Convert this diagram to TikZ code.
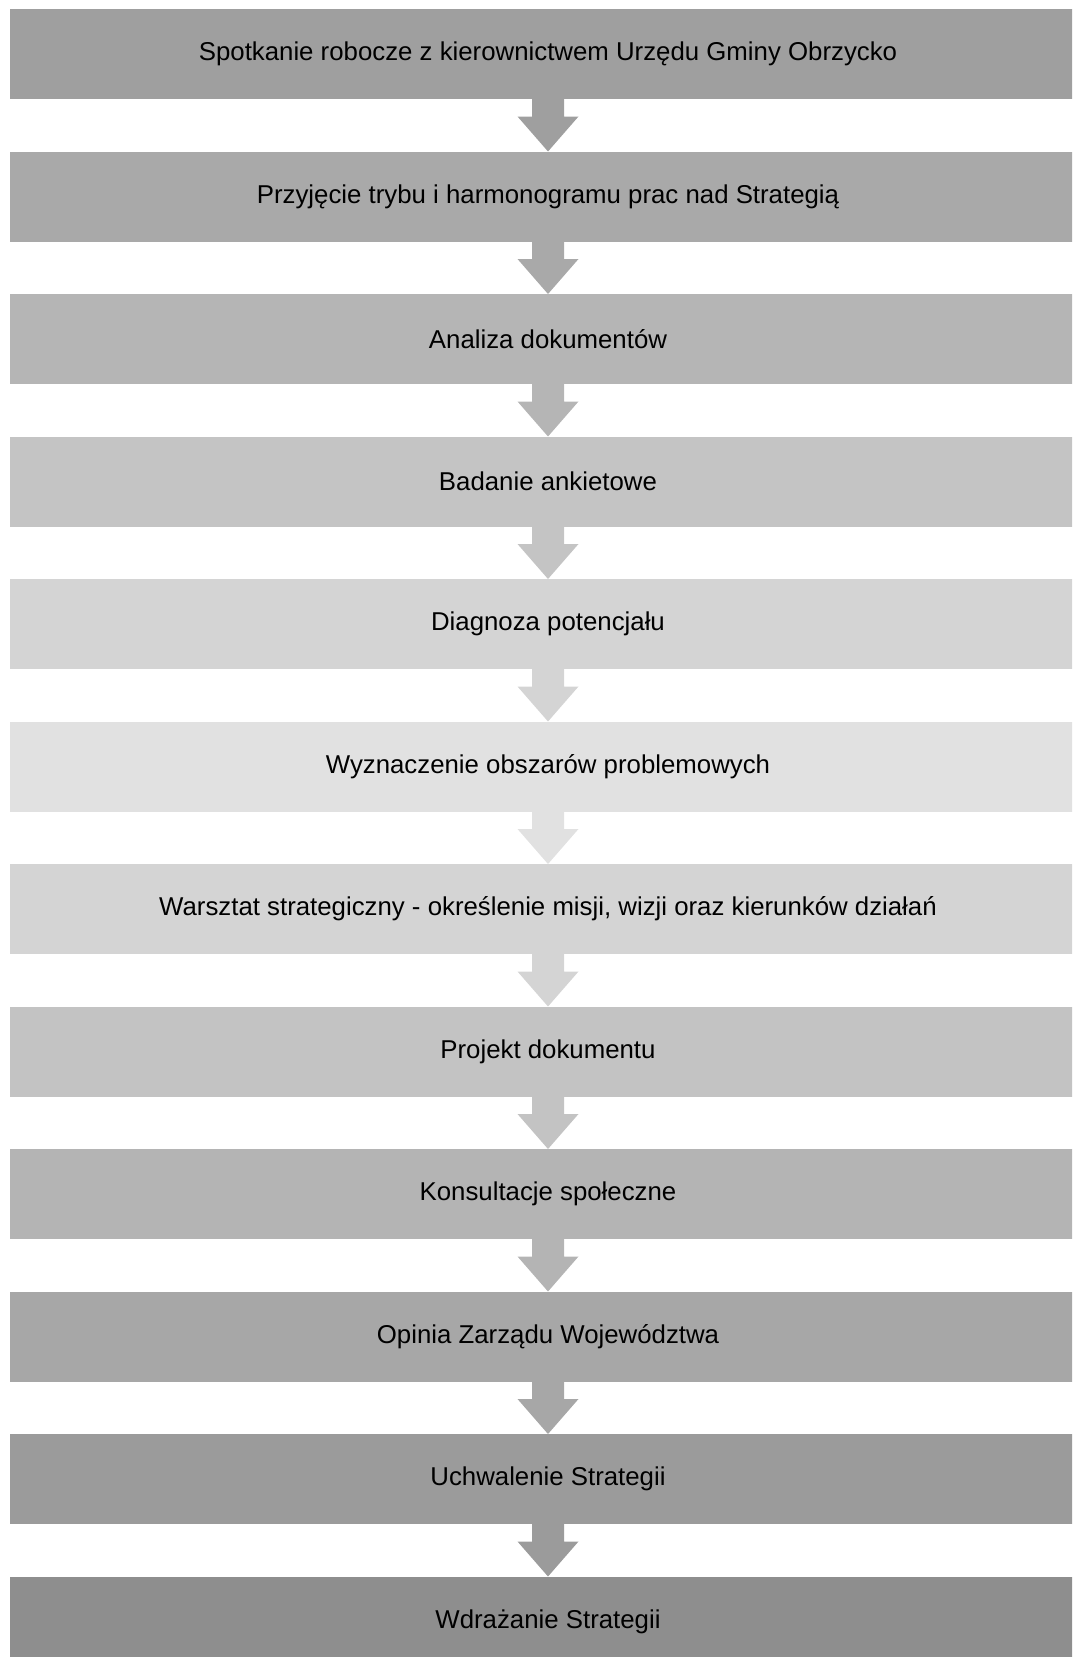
\documentclass[tikz,border=0pt]{standalone}
\usepackage{fontspec}
\setmainfont{Liberation Sans}
\definecolor{col1}{HTML}{9F9F9F}
\definecolor{col2}{HTML}{A9A9A9}
\definecolor{col3}{HTML}{B5B5B5}
\definecolor{col4}{HTML}{C4C4C4}
\definecolor{col5}{HTML}{D4D4D4}
\definecolor{col6}{HTML}{E1E1E1}
\definecolor{col7}{HTML}{D4D4D4}
\definecolor{col8}{HTML}{C3C3C3}
\definecolor{col9}{HTML}{B4B4B4}
\definecolor{col10}{HTML}{A7A7A7}
\definecolor{col11}{HTML}{9B9B9B}
\definecolor{col12}{HTML}{8E8E8E}
\begin{document}
\begin{tikzpicture}[x=1pt,y=1pt,
    stage/.style={minimum width=1076pt, minimum height=90pt, inner sep=0pt, outer sep=0pt,
      font=\fontsize{25.8}{30}\selectfont}]
    \useasboundingbox (0,0) rectangle (1072,-1657);
    \clip (0,0) rectangle (1072,-1657);
    % Define the stages
    \foreach \i/\t in {1/Spotkanie robocze z kierownictwem Urzędu Gminy Obrzycko,
                       2/Przyjęcie trybu i harmonogramu prac nad Strategią,
                       3/Analiza dokumentów,
                       4/Badanie ankietowe,
                       5/Diagnoza potencjału,
                       6/Wyznaczenie obszarów problemowych,
                       {7/Warsztat strategiczny - określenie misji, wizji oraz kierunków działań},
                       8/Projekt dokumentu,
                       9/Konsultacje społeczne,
                       10/Opinia Zarządu Województwa,
                       11/Uchwalenie Strategii,
                       12/Wdrażanie Strategii} {
        \pgfmathsetmacro{\y}{-54 - 142.5*(\i-1)}
        \node[stage, fill=col\i] (b\i) at (548, \y) {\t};
    }
    % Add arrows
    \foreach \i in {1,...,11} {
        \pgfmathtruncatemacro{\j}{\i+1}
        \fill[col\i] ([xshift=-16pt]b\i.south) -- ++(0,-17.5) -- ++(-14.5,0) -- (b\j.north)
            -- ++(30.5,35) -- ++(-14.5,0) -- ([xshift=16pt]b\i.south) -- cycle;
    }
\end{tikzpicture}
\end{document}
